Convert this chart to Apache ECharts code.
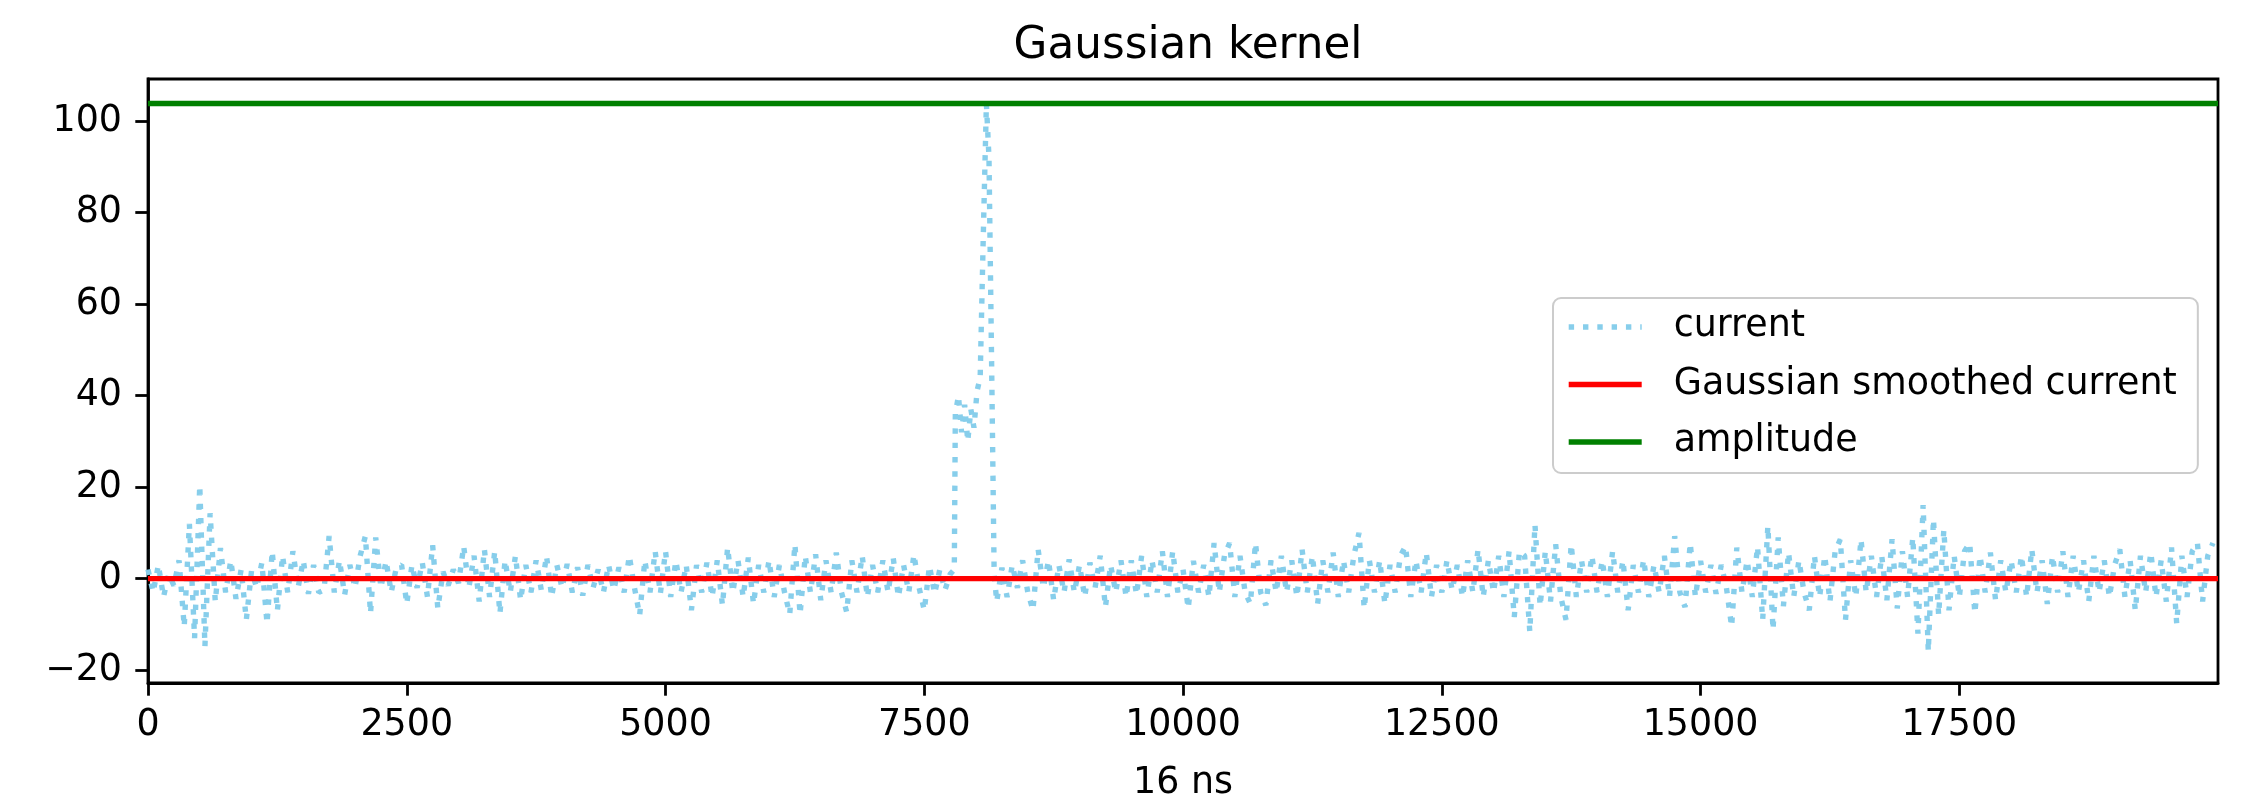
<!DOCTYPE html>
<html>
<head>
<meta charset="utf-8">
<script src="https://cdn.jsdelivr.net/npm/echarts@6/dist/echarts.min.js"></script>
<style>
html, body { margin: 0; padding: 0; background: #fff; }
#chart { width: 2249px; height: 807px; }
</style>
</head>
<body>
<div id="chart"></div>
<script>
// ---- data ----
const titleText = 'Gaussian kernel';
const xAxisName = '16 ns';
const seriesNames = ['current', 'Gaussian smoothed current', 'amplitude'];
const xTicks = [0, 2500, 5000, 7500, 10000, 12500, 15000, 17500];
const yTicks = [-20, 0, 20, 40, 60, 80, 100];
const xRange = [0, 19999];
const yRange = [-22.8, 109.2];

// current, samples every 50 (16 ns units) from 0 to 7750
const currentStepA = 50;
const currentA = [
  2, -3, 3, -4, 1, -1.5, 4, -10.5, 12, -13,
  20.4, -14.8, 14.3, -5, 6.7, -3, 4, -4.4, 2, -9,
  1.7, -2, 3.5, -9.8, 6, -7, 5, -3, 6, -2,
  4, -3.3, 3, -3, -2.5, 9.3, -3, 4, -3.5, 3,
  -2, 5, 9.3, -7.6, 9, -2, 3.9, -3, 2.5, 3,
  -5.5, 3, -2, 3.5, -4, 7.3, -6.5, 1.5, -1.5, 2,
  -1, 7.1, -2, 5, -5, 6.4, -4, 6, -7.6, 4,
  -3, 5, -4.7, 3, -3, 4, -2.5, 5, -4, 3,
  -2, 3.2, -3, 2.5, -3.7, 3, -2, 2, -3, 3,
  -2.5, 2.5, -3, 5, -2, -8, 4, -3, 6, -3.3,
  6, -4, 3.9, -3, 3, -6.9, 3, -3, 3.5, -4,
  4, -5.8, 6.8, -3, 4, -4, 4.6, -5.5, 3, -3,
  4, -4, 3, -3, -7.8, 7.5, -7.8, 5, -3, 5.3,
  -4.7, 4, -3, 5.7, -3, -7.3, 4, -3, 5, -4,
  3, -3, 4, -3, 4.5, -4, 3, -3, 5.3, -2,
  -6.9, 2.8, -3.3, 2, -2.5, 1
];

// current around the pulse
const peakX = [7790, 7800, 7830, 7860, 7890, 7920, 7950, 7980, 8010, 8040, 8070, 8100, 8125, 8150, 8175];
const peakY = [2, 36, 40, 32, 38, 30, 37, 33, 41, 44, 75, 103.85, 92, 48, 1];

// current, samples every 50 from 8200 to 19950
const currentStartB = 8200;
const currentStepB = 50;
const currentB = [
  -5, 2.4, -4, 3, -2, 4, -3, -6.9, 6.4, -2,
  4, -4.7, 3, -3, 4.2, -3, 3, -4, 3.5, -2,
  5, -6.2, 3, -3, 4, -4, 4, -3.5, 5, -4,
  4, -3, 6, -4, 6, -3, 2, -6.5, 3.9, -3,
  3, -4, 7.8, -3, 5, 7.8, -4, 5, -3, -5.5,
  7.8, -3, -5.8, 4, -3, 5, -3, 4, -4, 6.4,
  -3, 5, -5.5, 4, -3, 5.7, -4, 4, -3, 5,
  10, -6.5, 4, -3, 4, -5.5, 3, -3, 5, 7.1,
  -4, 4, -3, 5.7, -4, 3, -3, 4, -2.5, 3,
  -4, 4, -3, 6.4, -4, 4, -3, 5, -4, 6,
  -8.4, 6, 5, -11.6, 11.8, -6, 6, -5, 7.5, -4,
  -9, 7.5, -4, 4, -3, 5, -3, 4, -4, 6,
  -3, 4, -6.9, 3, -3, 4.2, -4, 3, -3, 5,
  -4, 9.3, -3, -6.2, 7.8, -4, 3.9, -3, 3, -3.3,
  3, -2, -10.5, 6.8, -3, 4, -4, 7, -9, 11.5,
  -11.2, 9, -6, 5.7, -4, 4, -3, -6.9, 5, -4,
  5, -5, 6, 8.6, -9, 4, -4, 8.6, -3, 5,
  -4, 5, -4.7, 8.6, -6.5, 6, -4, 9, -12, 16.1,
  -15.9, 13, -8, 10.7, -6.9, 5, -4, 6, 7.8, -7.6,
  5, -3, 5.7, -4.7, 4, -3, 4, -3, 5, -4,
  6.4, -3, 4, -5.5, 5, -3, 6, -4, 5, -3,
  4, -5, 5, -3, 4, -4, 3, 6.4, -4, 4,
  -6.9, 5, -3, 5.7, -4, 4, -5, 6.8, -9.8, 5,
  -4, 6, 7.8, -5, 5, 7.8
];

const smoothX = [0, 19999];
const smoothY = [0, 0];
const ampX = [0, 19999];
const ampY = [103.85, 103.85];

// ---- build series data ----
const currentData = [];
currentA.forEach((v, i) => currentData.push([i * currentStepA, v]));
peakX.forEach((x, i) => currentData.push([x, peakY[i]]));
currentB.forEach((v, i) => currentData.push([currentStartB + i * currentStepB, v]));
const smoothData = smoothX.map((x, i) => [x, smoothY[i]]);
const ampData = ampX.map((x, i) => [x, ampY[i]]);

const FONT = 'DejaVu Sans';
const LW = 5.4;
const fmtNum = v => (v < 0 ? '\u2212' + Math.abs(v) : String(v));

const chart = echarts.init(document.getElementById('chart'), null, { renderer: 'canvas' });
chart.setOption({
  animation: false,
  backgroundColor: '#ffffff',
  title: {
    text: titleText,
    left: 1183, top: 20,
    textAlign: 'center',
    textStyle: { fontFamily: FONT, fontSize: 43.7, fontWeight: 'normal', color: '#000', lineHeight: 44 }
  },
  grid: {
    left: 148, right: 31, top: 79, bottom: 112,
    show: true, borderColor: '#000', borderWidth: 2.8, backgroundColor: 'transparent'
  },
  legend: {
    orient: 'vertical',
    left: 1553, top: 298,
    data: seriesNames,
    itemWidth: 73, itemHeight: 40, itemGap: 17.5,
    padding: [9, 21, 11, 13],
    backgroundColor: 'rgba(255,255,255,0.8)',
    borderColor: '#cccccc', borderWidth: 2, borderRadius: 8,
    itemStyle: { color: 'rgba(0,0,0,0)', borderWidth: 0, opacity: 0 },
    lineStyle: { width: LW, cap: 'butt' },
    textStyle: { fontFamily: FONT, fontSize: 36.4, color: '#000', lineHeight: 40, padding: [0, 0, 0, 27] }
  },
  xAxis: {
    type: 'value', min: xRange[0], max: xRange[1],
    name: xAxisName, nameLocation: 'middle', nameGap: 83,
    nameTextStyle: { fontFamily: FONT, fontSize: 36.4, color: '#000', lineHeight: 36 },
    axisLine: { show: true, onZero: false, lineStyle: { color: '#000', width: 2.8 } },
    axisTick: { show: true, length: 12.7, customValues: xTicks, lineStyle: { color: '#000', width: 2.8 } },
    axisLabel: { customValues: xTicks, margin: 25, fontFamily: FONT, fontSize: 36.4, color: '#000', lineHeight: 36, formatter: fmtNum },
    splitLine: { show: false }
  },
  yAxis: {
    type: 'value', min: yRange[0], max: yRange[1],
    axisLine: { show: true, onZero: false, lineStyle: { color: '#000', width: 2.8 } },
    axisTick: { show: true, length: 12.7, customValues: yTicks, lineStyle: { color: '#000', width: 2.8 } },
    axisLabel: { customValues: yTicks, margin: 26, fontFamily: FONT, fontSize: 36.4, color: '#000', lineHeight: 36, formatter: fmtNum },
    splitLine: { show: false }
  },
  series: [
    {
      name: seriesNames[0], type: 'line', data: currentData,
      symbol: 'none', showSymbol: false, sampling: null, z: 2,
      lineStyle: { color: '#87CEEB', width: LW, type: [LW, LW * 1.65], cap: 'butt', join: 'bevel' },
      itemStyle: { color: '#87CEEB' }
    },
    {
      name: seriesNames[1], type: 'line', data: smoothData,
      symbol: 'none', showSymbol: false, z: 3,
      lineStyle: { color: '#ff0000', width: LW, type: 'solid' },
      itemStyle: { color: '#ff0000' }
    },
    {
      name: seriesNames[2], type: 'line', data: ampData,
      symbol: 'none', showSymbol: false, z: 4,
      lineStyle: { color: '#008000', width: LW, type: 'solid' },
      itemStyle: { color: '#008000' }
    }
  ]
});
</script>
</body>
</html>
